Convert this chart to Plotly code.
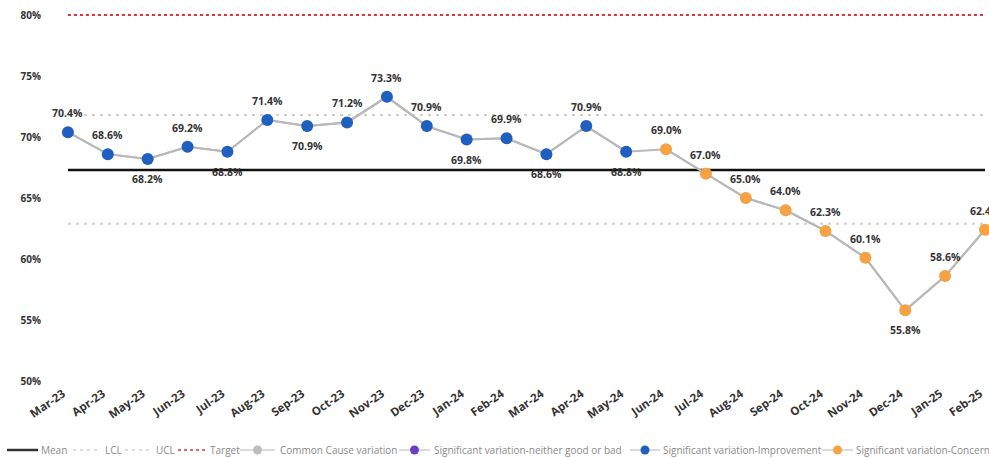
import plotly.graph_objects as go

# Monthly performance (%)
months = ["Mar-23", "Apr-23", "May-23", "Jun-23", "Jul-23", "Aug-23", "Sep-23", "Oct-23",
          "Nov-23", "Dec-23", "Jan-24", "Feb-24", "Mar-24", "Apr-24", "May-24", "Jun-24",
          "Jul-24", "Aug-24", "Sep-24", "Oct-24", "Nov-24", "Dec-24", "Jan-25", "Feb-25"]
values = [70.4, 68.6, 68.2, 69.2, 68.8, 71.4, 70.9, 71.2, 73.3, 70.9, 69.8, 69.9,
          68.6, 70.9, 68.8, 69.0, 67.0, 65.0, 64.0, 62.3, 60.1, 55.8, 58.6, 62.4]
# Special-cause classification per month
status = ["imp"] * 15 + ["con"] * 9
# Label placement relative to the point
label_pos = ["top", "top", "bottom", "top", "bottom", "top", "bottom", "top",
             "top", "top", "bottom", "top", "bottom", "top", "bottom", "top",
             "top", "top", "top", "top", "top", "bottom", "top", "top"]

mean_val = 67.3
ucl_val = 71.8
lcl_val = 62.9
target_val = 80.0
y_ticks = [50, 55, 60, 65, 70, 75, 80]

idx = list(range(len(months)))
FONT = "Open Sans"
BLUE = "#1F5FBF"
ORANGE = "#F4A244"
PURPLE = "#6A3FC8"
GREY_LINE = "#B8B8B8"
GREY_DASH = "#CFCFCF"
RED = "#E0303A"

W, H = 989, 458
ML, MR, MT, MB = 48, 0, 9, 77
PW, PH = W - ML - MR, H - MT - MB

fig = go.Figure()

def hline(name, val, color, width, dash):
    fig.add_trace(go.Scatter(
        x=idx, y=[val] * len(idx), mode="lines", name=name, showlegend=False,
        line=dict(color=color, width=width, dash=dash), hoverinfo="skip"))

hline("Mean", mean_val, "#111111", 2.5, "solid")
hline("LCL", lcl_val, GREY_DASH, 2, "3px,5px")
hline("UCL", ucl_val, GREY_DASH, 2, "3px,5px")
hline("Target", target_val, RED, 2, "3px,3px")

fig.add_trace(go.Scatter(
    x=idx, y=values, mode="lines+markers", name="Common Cause variation", showlegend=False,
    line=dict(color=GREY_LINE, width=2), marker=dict(color=GREY_LINE, size=11)))

def seg(name, key, color):
    ys = [v if s == key else None for v, s in zip(values, status)]
    fig.add_trace(go.Scatter(
        x=idx, y=ys, mode="lines+markers", name=name, connectgaps=False, showlegend=False,
        line=dict(color=GREY_LINE, width=2), marker=dict(color=color, size=12)))

seg("Significant variation-Improvement", "imp", BLUE)
seg("Significant variation-Concern", "con", ORANGE)

# Value labels
for i, v, p in zip(idx, values, label_pos):
    fig.add_annotation(
        x=i, y=v, text=f"{v:.1f}%", showarrow=False,
        yshift=19 if p == "top" else -20,
        font=dict(family=FONT, size=10.5, color="#333333", weight="bold"))

# Legend row drawn along the bottom edge
def px_x(px):
    return (px - ML) / PW

def px_y(py):
    return (H - MB - py) / PH

LEG_Y = 450
legend_items = [
    # (label, symbol start, symbol end, text start, line colour, dash, width, dot colour)
    ("Mean", 7, 38, 40, "#333333", "solid", 2.5, None),
    ("LCL", 73, 100, 104, GREY_DASH, "3px,4px", 1.5, None),
    ("UCL", 125, 151, 155, GREY_DASH, "3px,4px", 1.5, None),
    ("Target", 178, 207, 209, RED, "3px,3px", 1.5, None),
    ("Common Cause variation", 240, 275, 279, GREY_DASH, "solid", 1.5, "#BDBDBD"),
    ("Significant variation-neither good or bad", 399, 430, 433, GREY_DASH, "solid", 1.5, PURPLE),
    ("Significant variation-Improvement", 630, 660, 662, GREY_DASH, "solid", 1.5, BLUE),
    ("Significant variation-Concern", 822, 853, 855, GREY_DASH, "solid", 1.5, ORANGE),
]
for label, s0, s1, t0, lc, dash, lw, dot in legend_items:
    fig.add_shape(type="line", xref="paper", yref="paper",
                  x0=px_x(s0), x1=px_x(s1), y0=px_y(LEG_Y), y1=px_y(LEG_Y),
                  line=dict(color=lc, width=lw, dash=dash), layer="above")
    if dot:
        fig.add_shape(type="circle", xref="paper", yref="paper",
                      xsizemode="pixel", ysizemode="pixel",
                      xanchor=px_x((s0 + s1) / 2), yanchor=px_y(LEG_Y),
                      x0=-4.5, x1=4.5, y0=-4.5, y1=4.5,
                      fillcolor=dot, line=dict(width=0), layer="above")
    fig.add_annotation(xref="paper", yref="paper", x=px_x(t0), y=px_y(LEG_Y),
                       xanchor="left", yanchor="middle", showarrow=False, text=label,
                       borderpad=0, font=dict(family=FONT, size=10, color="#8A8A8A"))

fig.update_layout(
    width=W, height=H,
    margin=dict(l=ML, r=MR, t=MT, b=MB),
    paper_bgcolor="white", plot_bgcolor="white",
    font=dict(family=FONT),
    showlegend=False,
    xaxis=dict(range=[-0.5, 23.1], tickmode="array", tickvals=idx, ticktext=months,
               tickangle=-35, showgrid=False, zeroline=False, showline=False, ticks="",
               ticklabeloverflow="allow", ticklabelstandoff=3, ticklabelshift=-5,
               tickfont=dict(family=FONT, size=11.5, color="#333333", weight="bold")),
    yaxis=dict(range=[50, 80.5], tickmode="array", tickvals=y_ticks,
               ticktext=[f"{t}%" for t in y_ticks], showgrid=False, zeroline=False,
               showline=False, ticks="", ticklabelstandoff=6,
               tickfont=dict(family=FONT, size=10, color="#333333", weight="bold")),
)

fig.write_html("out.html")
